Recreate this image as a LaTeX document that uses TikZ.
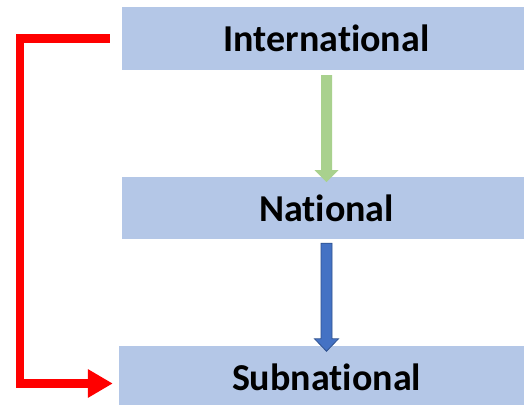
\documentclass[tikz,border=0pt]{standalone}
\usepackage{fontspec}
\setmainfont{Carlito}[Ligatures={NoCommon,NoContextual}]
\usetikzlibrary{arrows.meta,calc}
\definecolor{boxblue}{HTML}{B4C7E7}
\definecolor{arrgreen}{HTML}{A9D18E}
\definecolor{arrblue}{HTML}{4472C4}
\definecolor{arrblueline}{HTML}{2F528F}
\definecolor{redline}{HTML}{FF0000}
\tikzset{
  levelbox/.style={fill=boxblue, draw=none, minimum height=63pt, minimum width=409pt, inner sep=0pt,
    font=\fontsize{38}{45}\selectfont\bfseries, text=black},
}
\begin{document}
\begin{tikzpicture}[x=1pt,y=1pt]
\useasboundingbox (0,0) rectangle (524,404);
\clip (0,0) rectangle (524,404);
\fill[white] (0,0) rectangle (524,404);
\node[levelbox] (int) at (326.5,365.5) {International};
\node[levelbox, minimum height=62pt] (nat) at (326.5,196) {National};
\node[levelbox, minimum width=415pt] (sub) at (326.5,26.5) {Subnational};
% green arrow
\coordinate (gs) at ([yshift=-5pt]int.south);
\coordinate (gt) at ([yshift=-5.3pt]nat.north);
\fill[arrgreen] ($(gs)+(-5.5,0)$) -- ($(gs)+(5.5,0)$) -- ($(gt)+(5.5,12)$) -- ($(gt)+(12,12)$) -- (gt) -- ($(gt)+(-12,12)$) -- ($(gt)+(-5.5,12)$) -- cycle;
% blue arrow
\coordinate (bs) at ([yshift=-4pt]nat.south);
\coordinate (bt) at ([yshift=-5.5pt]sub.north);
\filldraw[fill=arrblue, draw=arrblueline, line width=0.8pt, line join=miter] ($(bs)+(-5.5,0)$) -- ($(bs)+(5.5,0)$) -- ($(bt)+(5.5,12.5)$) -- ($(bt)+(12,12.5)$) -- (bt) -- ($(bt)+(-12,12.5)$) -- ($(bt)+(-5.5,12.5)$) -- cycle;
% red connector
\coordinate (rs) at ([xshift=-12pt]int.west);
\coordinate (re) at ([xshift=-6pt,yshift=-6pt]sub.west);
\draw[redline, line width=8.5pt, line join=miter, -{Triangle[width=27pt,length=25pt]}] (rs) -- (20,365.5) |- (re);
\end{tikzpicture}
\end{document}
